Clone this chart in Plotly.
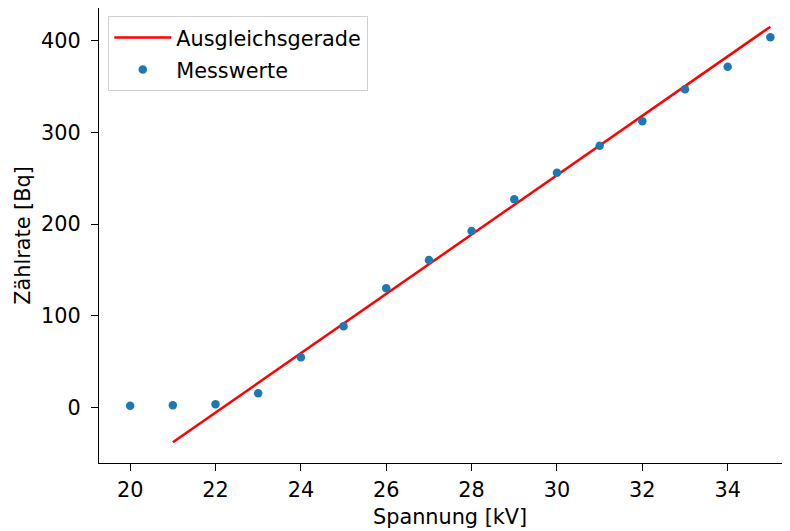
import plotly.graph_objects as go

spannung = [20, 21, 22, 23, 24, 25, 26, 27, 28, 29, 30, 31, 32, 33, 34, 35]
zaehlrate = [1.7, 2.2, 3.3, 15.3, 54.6, 88.4, 129.9, 160.8, 192.5, 227.1, 256.1, 285.6, 312.2, 347.2, 371.8, 403.9]
fit_x = [21, 35]
fit_y = [-38.2, 415.5]
x_ticks = [20, 22, 24, 26, 28, 30, 32, 34]
y_ticks = [0, 100, 200, 300, 400]

FS = 20.8

fig = go.Figure()
fig.add_trace(go.Scatter(x=fit_x, y=fit_y, mode="lines", name="Ausgleichsgerade",
                         line=dict(color="#ff0000", width=2.5), legendgroup="a"))
fig.add_trace(go.Scatter(x=spannung, y=zaehlrate, mode="markers", name="Messwerte",
                         marker=dict(color="#1f77b4", size=8.5), legendgroup="b"))

axis_common = dict(showline=True, linecolor="black", linewidth=1.3, ticks="outside",
                   ticklen=7, tickwidth=1.3, tickcolor="black", showgrid=False, zeroline=False,
                   tickfont=dict(size=FS, color="black"))
fig.update_layout(
    width=782, height=523,
    margin=dict(l=91, r=0, t=0, b=68),
    plot_bgcolor="white", paper_bgcolor="white",
    font=dict(family="DejaVu Sans", size=FS, color="black"),
    showlegend=True,
    legend=dict(x=0.013, y=0.982, xanchor="left", yanchor="top",
                bordercolor="#d0d0d0", borderwidth=1.3, bgcolor="white",
                itemwidth=57,
                font=dict(size=FS), traceorder="grouped", tracegroupgap=2),
    xaxis=dict(range=[19.27, 35.46], tickvals=x_ticks, mirror=True,
               ticklabelstandoff=1, **axis_common),
    yaxis=dict(range=[-60.8, 435.9], tickvals=y_ticks, mirror=False,
               ticklabelstandoff=6,
               title=dict(text="Zählrate [Bq]", standoff=4, font=dict(size=FS)), **axis_common),
    annotations=[dict(text="Spannung [kV]", xref="paper", yref="paper", x=0.508, y=0,
                      xanchor="center", yanchor="middle", yshift=-54, showarrow=False,
                      font=dict(size=FS, color="black"))],
)
fig.write_html("out.html")
